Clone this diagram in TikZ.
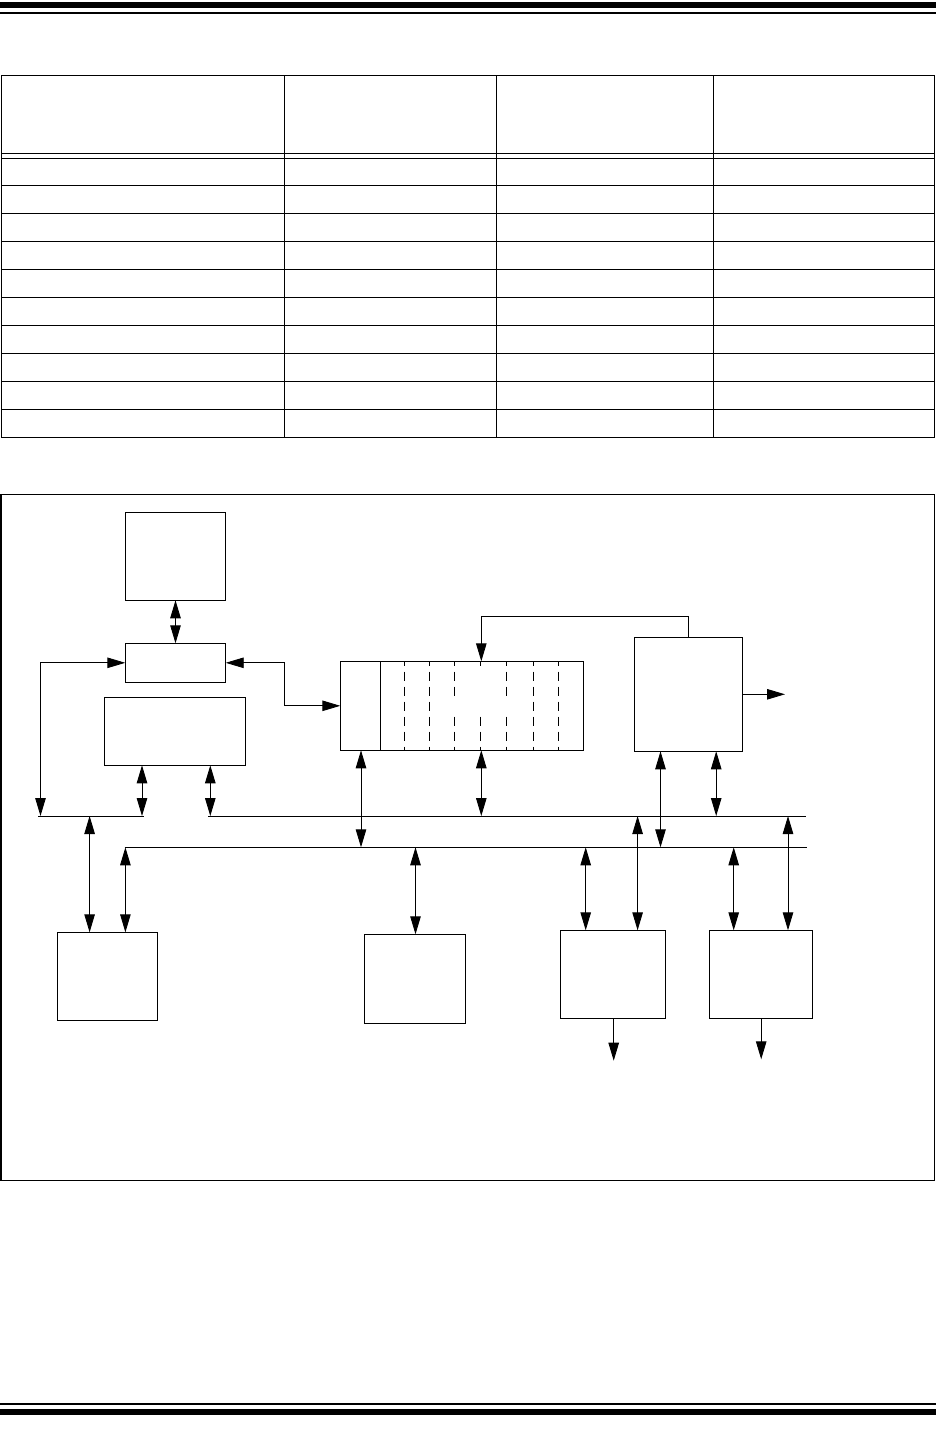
\documentclass[tikz,border=0pt]{standalone}
\usetikzlibrary{arrows.meta}
\begin{document}
\begin{tikzpicture}[x=1pt,y=-1pt,
  blk/.style={draw, line width=1pt, rectangle, inner sep=0pt, outer sep=0pt},
  conn/.style={line width=0.9pt},
  dbl/.style={conn, {Triangle[length=18pt,width=10.5pt]}-{Triangle[length=18pt,width=10.5pt]}},
  sgl/.style={conn, -{Triangle[length=18pt,width=10.5pt]}},
  tline/.style={line width=1pt},
  bus/.style={line width=1pt},
  dsh/.style={line width=0.9pt}]
\useasboundingbox (0,0) rectangle (936,1431);
% header / footer bars
\fill (0,2) rectangle (936,8);
\fill (0,12) rectangle (936,14);
\fill (0,1403) rectangle (936,1405);
\fill (0,1409) rectangle (936,1415);
% table
\draw[tline] (1,75.3) rectangle (934.8,437.3);
\foreach \x in {284.7,496,713.5} \draw[tline] (\x,75.3) -- (\x,437.3);
\foreach \y in {153.7,158.3,185.3,213.3,241.3,269.3,297.3,325.3,353.3,381.3,409.3}
  \draw[tline] (1,\y) -- (934.8,\y);
% frame
\draw[line width=1.2pt] (1,494.5) rectangle (934.8,1180.3);
% boxes
\node[blk, minimum width=100.4pt, minimum height=88pt] (mem) at (175.5,556.3) {};
\node[blk, minimum width=100.4pt, minimum height=39pt] (ctl) at (175.5,662.8) {};
\node[blk, minimum width=141.4pt, minimum height=68pt] (wide) at (175,731.3) {};
\node[blk, minimum width=243pt, minimum height=89pt] (reg) at (461.8,705.8) {};
\node[blk, minimum width=108pt, minimum height=114pt] (rbox) at (688.3,694.3) {};
\node[blk, minimum width=100.3pt, minimum height=88pt] (b1) at (107.45,976.3) {};
\node[blk, minimum width=100.2pt, minimum height=89pt] (b2) at (414.9,978.8) {};
\node[blk, minimum width=105.1pt, minimum height=88pt] (b3) at (613.15,974.3) {};
\node[blk, minimum width=103.2pt, minimum height=88pt] (b4) at (760.9,974.3) {};
% register internals
\draw[line width=1pt] (380.3,661.3) -- (380.3,750.3);
\foreach \x/\set in {404.3/{1,2,3,4,5,6,7},429.3/{1,2,3,4,5,6,7},454.3/{1,2,3,5,6,7},
                     480/{1,5,6,7},506.7/{1,2,3,5,6,7},533.3/{1,2,3,4,5,6,7},558.3/{1,2,3,4,5,6,7}}{
  \foreach \i in \set {
    \ifcase\i\or
      \draw[dsh] (\x,661.3) -- (\x,665.7);\or
      \draw[dsh] (\x,671.7) -- (\x,680.7);\or
      \draw[dsh] (\x,686.7) -- (\x,695.7);\or
      \draw[dsh] (\x,701.7) -- (\x,710.7);\or
      \draw[dsh] (\x,716.7) -- (\x,725.7);\or
      \draw[dsh] (\x,731.7) -- (\x,740.7);\or
      \draw[dsh] (\x,746.7) -- (\x,750.3);\fi
  }
}
% buses
\coordinate (ulA) at (38,816);   \coordinate (ulB) at (144.4,816);
\coordinate (umA) at (208,816);  \coordinate (umB) at (805.5,816);
\coordinate (lwA) at (124.5,847.3); \coordinate (lwB) at (807.2,847.3);
\draw[bus] (ulA) -- (ulB);
\draw[bus] (umA) -- (umB);
\draw[bus] (lwA) -- (lwB);
% bus tap points
\coordinate (pL) at (40.5,816);
\coordinate (pW1) at (142,816);
\coordinate (pW2) at (210.3,816);
\coordinate (pR2) at (481.3,816);
\coordinate (pB) at (716.2,816);
\coordinate (pB1a) at (89.6,816);
\coordinate (pB3b) at (637.6,816);
\coordinate (pB4b) at (788,816);
\coordinate (qR1) at (361,847.3);
\coordinate (qB) at (660.5,847.3);
\coordinate (qB1b) at (125.4,847.3);
\coordinate (qB2) at (415.5,847.3);
\coordinate (qB3a) at (585.7,847.3);
\coordinate (qB4a) at (733.7,847.3);
\coordinate (jog) at (284.3,0);
\coordinate (rt) at (481.3,616.7);
\coordinate (o1) at (613.7,1060.7);
\coordinate (o2) at (761.2,1059.3);
\coordinate (o3) at (785,694.3);
% connectors
\draw[dbl] (mem.south) -- (ctl.north);
\draw[dbl] (pL) -- (pL |- ctl.west) -- (ctl.west);
\draw[dbl] (ctl.east) -- (ctl.east -| jog) |- (reg.west);
\draw[dbl] (wide.south -| pW1) -- (pW1);
\draw[dbl] (wide.south -| pW2) -- (pW2);
\draw[dbl] (reg.south -| qR1) -- (qR1);
\draw[dbl] (reg.south -| pR2) -- (pR2);
\draw[sgl] (rbox.north) |- (rt) -- (rt |- reg.north);
\draw[sgl] (rbox.east) -- (o3);
\draw[dbl] (rbox.south -| qB) -- (qB);
\draw[dbl] (rbox.south -| pB) -- (pB);
\draw[dbl] (pB1a) -- (pB1a |- b1.north);
\draw[dbl] (qB1b) -- (qB1b |- b1.north);
\draw[dbl] (qB2) -- (qB2 |- b2.north);
\draw[dbl] (qB3a) -- (qB3a |- b3.north);
\draw[dbl] (pB3b) -- (pB3b |- b3.north);
\draw[dbl] (qB4a) -- (qB4a |- b4.north);
\draw[dbl] (pB4b) -- (pB4b |- b4.north);
\draw[sgl] (b3.south -| o1) -- (o1);
\draw[sgl] (b4.south -| o2) -- (o2);
\end{tikzpicture}
\end{document}
